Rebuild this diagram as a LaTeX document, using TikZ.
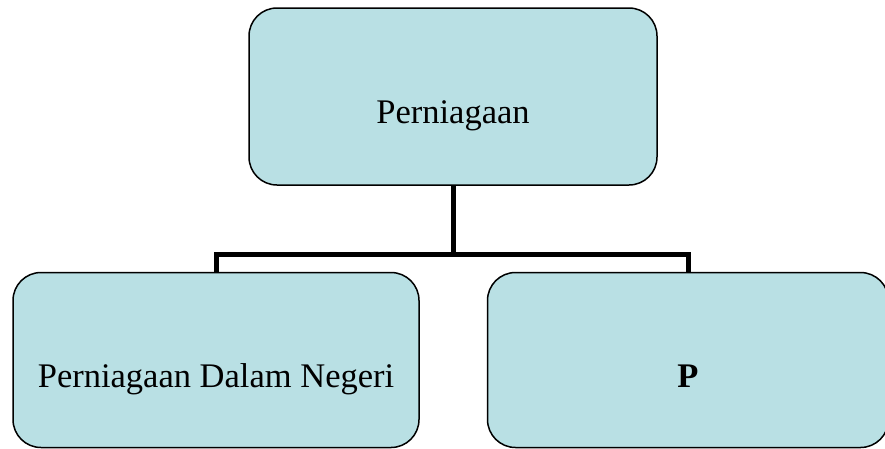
\documentclass[tikz,border=0pt]{standalone}
\usepackage{fontspec}
\setmainfont{Liberation Serif}
\usepackage{tikz}

\definecolor{boxfill}{RGB}{185,224,228}

\begin{document}
\begin{tikzpicture}[x=1pt, y=-1pt,
  orgbox/.style={shape=rectangle, rounded corners=28pt, minimum width=406pt, minimum height=175pt,
    inner sep=0pt, text height=54pt, text depth=0pt, fill=boxfill, draw, line width=1.5pt,
    font=\fontsize{34.5}{40}\selectfont},
  link/.style={line width=5pt}]

\useasboundingbox (0,0) rectangle (885,448);

\node[name=top, orgbox, minimum width=408pt, minimum height=177pt] at (453,96.5) {Perniagaan};
\node[name=left, orgbox] at (216,360) {Perniagaan Dalam Negeri};
\node[name=right, orgbox, minimum width=401pt] at (688,360) {\textbf{P}};

\coordinate (hub) at (453,254.5);

\draw[link] (top.south) -- (hub);
\draw[link] (left.north) |- (hub) -| (right.north);

\end{tikzpicture}
\end{document}
